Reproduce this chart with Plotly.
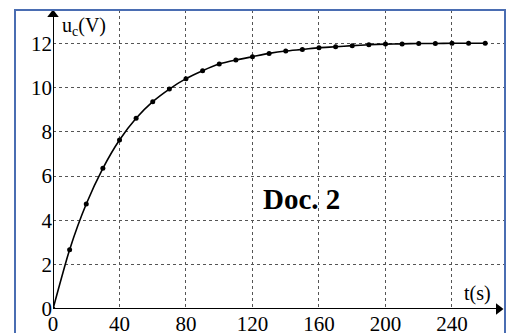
import plotly.graph_objects as go

# Data
t_s = [0, 10, 20, 30, 40, 50, 60, 70, 80, 90, 100, 110, 120, 130, 140,
       150, 160, 170, 180, 190, 200, 210, 220, 230, 240, 250, 260]
uc_v = [0.0, 2.68, 4.74, 6.35, 7.63, 8.61, 9.36, 9.93, 10.40, 10.76, 11.06,
        11.24, 11.39, 11.54, 11.65, 11.72, 11.80, 11.84, 11.89, 11.93, 11.96,
        11.97, 11.99, 11.99, 12.0, 12.0, 12.0]
x_ticks = [0, 40, 80, 120, 160, 200, 240]
y_ticks = [0, 2, 4, 6, 8, 10, 12]

W, H = 513, 333
ml, mr, mt, mb = 15, 8, 10, 24
x_px0 = 53
dom_x0 = (x_px0 - ml) / (W - ml - mr)

SERIF = "Times New Roman, Liberation Serif, Times, DejaVu Serif, serif"
X_END, Y_END = 268, 13.3

fig = go.Figure()
fig.add_trace(go.Scatter(
    x=t_s, y=uc_v, mode="lines+markers",
    line=dict(color="black", width=1.6, shape="spline", smoothing=0.6),
    marker=dict(color="black", size=5),
    showlegend=False, hoverinfo="skip",
))
# axis arrow heads
fig.add_trace(go.Scatter(
    x=[X_END, 0], y=[0, Y_END], mode="markers",
    marker=dict(symbol=["triangle-right", "triangle-up"], size=10, color="black"),
    cliponaxis=False, showlegend=False, hoverinfo="skip",
))

grid = dict(showgrid=True, gridcolor="#555555", gridwidth=1, griddash="dot")

fig.update_layout(
    width=W, height=H,
    margin=dict(l=ml, r=mr, t=mt, b=mb),
    paper_bgcolor="white", plot_bgcolor="white",
    font=dict(family=SERIF, color="black"),
    xaxis=dict(domain=[dom_x0, 1], range=[0, 271.9], tickvals=x_ticks,
               ticktext=[str(v) for v in x_ticks], automargin=False,
               ticks="", showline=False, zeroline=False,
               tickfont=dict(family=SERIF, size=21, color="black"), **grid),
    yaxis=dict(range=[0, 13.5], tickvals=y_ticks,
               ticktext=[str(v) for v in y_ticks], automargin=False,
               ticks="", showline=False, zeroline=False,
               tickfont=dict(family=SERIF, size=21, color="black"), **grid),
    shapes=[
        dict(type="rect", xref="paper", yref="paper", x0=0, x1=1, y0=-0.3, y1=1,
             line=dict(color="#4a6db2", width=2), layer="above"),
        dict(type="line", xref="x", yref="y", x0=0, x1=X_END, y0=0, y1=0,
             line=dict(color="black", width=2), layer="above"),
        dict(type="line", xref="x", yref="y", x0=0, x1=0, y0=0, y1=Y_END,
             line=dict(color="black", width=2), layer="above"),
    ],
    annotations=[
        dict(x=4.5, y=12.75, xref="x", yref="y", xanchor="left", yanchor="middle",
             text="u<sub>c</sub>(V)", showarrow=False,
             font=dict(family=SERIF, size=20, color="black")),
        dict(x=255.6, y=0.68, xref="x", yref="y", xanchor="center", yanchor="middle",
             text="t(s)", showarrow=False,
             font=dict(family=SERIF, size=20, color="black")),
        dict(x=149.5, y=4.97, xref="x", yref="y", xanchor="center", yanchor="middle",
             text="<b>Doc. 2</b>", showarrow=False,
             font=dict(family=SERIF, size=29, color="black")),
    ],
)

fig.write_html(
    "out.html",
    config={"displayModeBar": False, "staticPlot": True},
    post_script="document.body.style.margin='0';document.body.style.overflow='hidden';",
)
